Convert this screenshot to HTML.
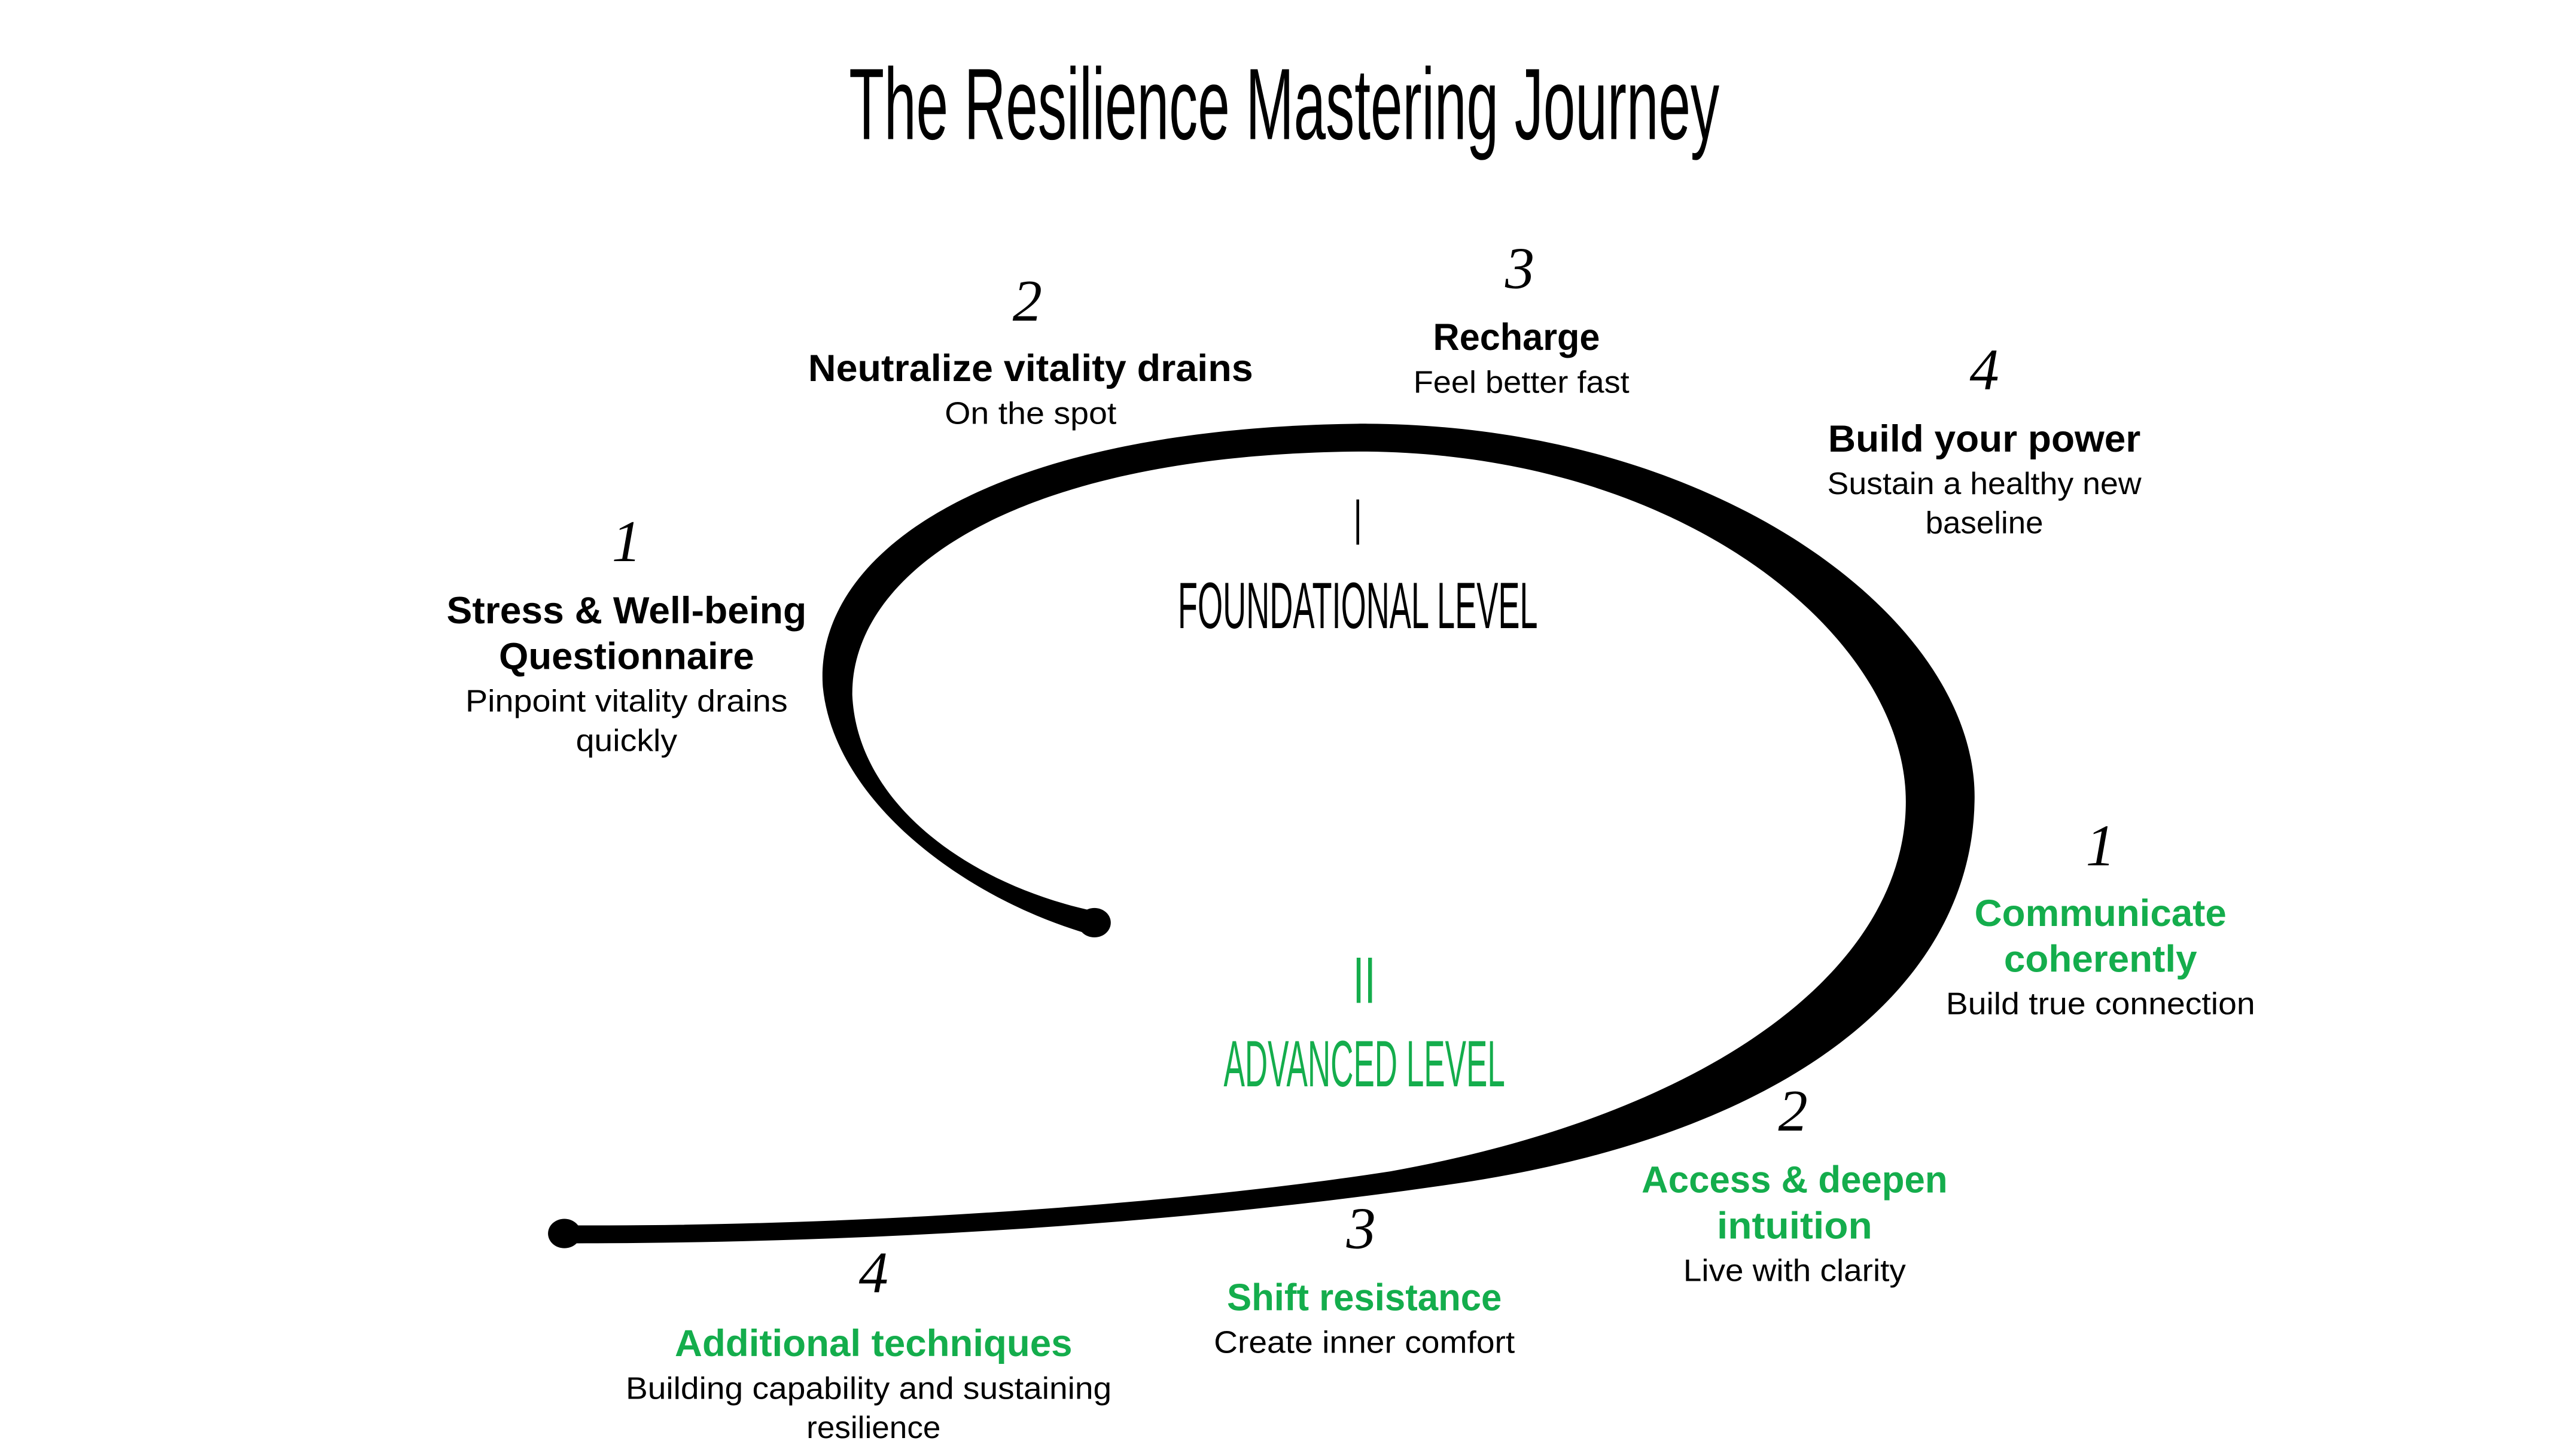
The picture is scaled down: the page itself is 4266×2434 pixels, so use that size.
<!DOCTYPE html>
<html><head><meta charset="utf-8"><style>
html,body{margin:0;padding:0;background:#fff;width:4266px;height:2434px;overflow:hidden}
svg{display:block}
text{font-family:"Liberation Sans",sans-serif;text-anchor:middle}
.b{font-weight:bold;font-size:23px}
.r{font-size:19px}
.n{font-family:"Liberation Serif",serif;font-style:italic;font-size:36px}
.c{font-size:40px}
.g{fill:#14ad4c}
</style></head><body>
<svg width="4266" height="2434" viewBox="0 0 1560 890" preserveAspectRatio="none">
<rect width="1560" height="890" fill="#fff"/>
<text x="785" y="85" style="font-size:62px" textLength="532" lengthAdjust="spacingAndGlyphs">The Resilience Mastering Journey</text>

<path d="M669,572 C590,550 510,490 503,420 C497,340 600,262 830,259 C1050,258 1210,380 1207,490 C1205,600 1100,690 900,722 C700,752 500,760 345,760 L345,749 C500,750 700,739 850,716 C1050,680 1165,590 1165,490 C1165,390 1030,276 830,276 C620,278 520,350 521,425 C524,490 590,540 669,557 Z" fill="#000"/>
<ellipse cx="669" cy="564" rx="10" ry="9" fill="#000"/>
<ellipse cx="345" cy="754" rx="10" ry="9" fill="#000"/>

<text class="n" x="628" y="196">2</text>
<text class="n" x="929" y="176">3</text>
<text class="n" x="1213" y="238">4</text>
<text class="n" x="383" y="343">1</text>
<text class="n" x="1284" y="529">1</text>
<text class="n" x="1096" y="691">2</text>
<text class="n" x="832" y="763">3</text>
<text class="n" x="534" y="790">4</text>

<text class="b" x="630" y="233" textLength="272" lengthAdjust="spacingAndGlyphs">Neutralize vitality drains</text>
<text class="r" x="630" y="259" textLength="105" lengthAdjust="spacingAndGlyphs">On the spot</text>
<text class="b" x="927" y="214" textLength="102" lengthAdjust="spacingAndGlyphs">Recharge</text>
<text class="r" x="930" y="240" textLength="132" lengthAdjust="spacingAndGlyphs">Feel better fast</text>
<text class="b" x="1213" y="276" textLength="191" lengthAdjust="spacingAndGlyphs">Build your power</text>
<text class="r" x="1213" y="302" textLength="192" lengthAdjust="spacingAndGlyphs">Sustain a healthy new</text>
<text class="r" x="1213" y="326" textLength="72" lengthAdjust="spacingAndGlyphs">baseline</text>
<text class="b" x="383" y="381" textLength="220" lengthAdjust="spacingAndGlyphs">Stress &amp; Well-being</text>
<text class="b" x="383" y="409" textLength="156" lengthAdjust="spacingAndGlyphs">Questionnaire</text>
<text class="r" x="383" y="435" textLength="197" lengthAdjust="spacingAndGlyphs">Pinpoint vitality drains</text>
<text class="r" x="383" y="459" textLength="62" lengthAdjust="spacingAndGlyphs">quickly</text>

<text class="c" x="830" y="333" textLength="5" lengthAdjust="spacingAndGlyphs">I</text>
<text class="c" x="830" y="384" textLength="220" lengthAdjust="spacingAndGlyphs">FOUNDATIONAL LEVEL</text>
<text class="c g" x="834" y="613" textLength="14" lengthAdjust="spacingAndGlyphs">II</text>
<text class="c g" x="834" y="664" textLength="172" lengthAdjust="spacingAndGlyphs">ADVANCED LEVEL</text>

<text class="b g" x="1284" y="566" textLength="154" lengthAdjust="spacingAndGlyphs">Communicate</text>
<text class="b g" x="1284" y="594" textLength="118" lengthAdjust="spacingAndGlyphs">coherently</text>
<text class="r" x="1284" y="620" textLength="189" lengthAdjust="spacingAndGlyphs">Build true connection</text>
<text class="b g" x="1097" y="729" textLength="187" lengthAdjust="spacingAndGlyphs">Access &amp; deepen</text>
<text class="b g" x="1097" y="757" textLength="95" lengthAdjust="spacingAndGlyphs">intuition</text>
<text class="r" x="1097" y="783" textLength="136" lengthAdjust="spacingAndGlyphs">Live with clarity</text>
<text class="b g" x="834" y="801" textLength="168" lengthAdjust="spacingAndGlyphs">Shift resistance</text>
<text class="r" x="834" y="827" textLength="184" lengthAdjust="spacingAndGlyphs">Create inner comfort</text>
<text class="b g" x="534" y="829" textLength="243" lengthAdjust="spacingAndGlyphs">Additional techniques</text>
<text class="r" x="531" y="855" textLength="297" lengthAdjust="spacingAndGlyphs">Building capability and sustaining</text>
<text class="r" x="534" y="879" textLength="82" lengthAdjust="spacingAndGlyphs">resilience</text>
</svg>
</body></html>
